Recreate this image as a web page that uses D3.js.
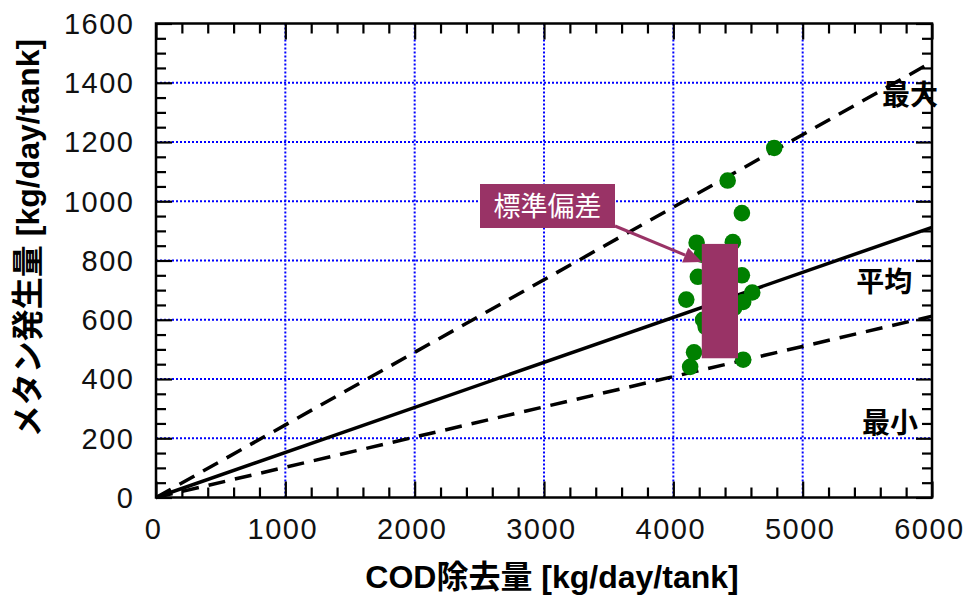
<!DOCTYPE html>
<html><head><meta charset="utf-8">
<script src="https://cdn.jsdelivr.net/npm/d3@7"></script>
<style>
body{margin:0;background:#fff;}
text{font-family:"Liberation Sans",Arial,"Noto Sans CJK JP",sans-serif;}
</style></head>
<body><svg id="c" width="967" height="595"></svg>
<script>
// ---- data ----
const xTicks = [0,1000,2000,3000,4000,5000,6000];
const yTicks = [0,200,400,600,800,1000,1200,1400,1600];
const codRemoval = [4780,4420,4530,4180,4460,4190,4530,4100,4610,4540,4250,4160,4130,4540,4230,4220,4300,4400,4350,4470];
const methane    = [1180,1070,960,860,862,745,750,668,692,660,576,490,441,465,600,820,700,610,530,640];
const lineNames = ["最大","平均","最小"];
const lineEndX = [6000,6000,6000];
const lineEndY = [1470,912,612];
const lineDash = [true,false,true];
const sdX = [4220,4500];
const sdY = [470,856];
const sdLabel = "標準偏差";
const xTitle = "COD除去量 [kg/day/tank]";
const yTitle = "メタン発生量 [kg/day/tank]";

// ---- layout ----
const svg = d3.select("#c");
const L=156, R=932, T=23.5, B=497.5;
const x = d3.scaleLinear().domain([0,6000]).range([L,R]);
const y = d3.scaleLinear().domain([0,1600]).range([B,T]);
const purple = "#993366";

// grid
const g = svg.append("g");
g.selectAll(".gx").data(xTicks.slice(1,-1)).join("line")
  .attr("x1",d=>x(d)).attr("x2",d=>x(d)).attr("y1",T).attr("y2",B)
  .attr("stroke","#0000ff").attr("stroke-width",2).attr("stroke-dasharray","2,2");
g.selectAll(".gy").data(yTicks.slice(1,-1)).join("line")
  .attr("y1",d=>y(d)).attr("y2",d=>y(d)).attr("x1",L).attr("x2",R)
  .attr("stroke","#0000ff").attr("stroke-width",2).attr("stroke-dasharray","2,2");

// axes with inward ticks on all sides
const xMinor = d3.range(0,6001,200).filter(v=>v%1000!==0);
const yMinor = d3.range(0,1601,50).filter(v=>v%200!==0);
function addAxis(axisFn, scale, pos, ticks, size){
  const a = axisFn(scale).tickValues(ticks).tickSize(size).tickFormat("");
  const gg = svg.append("g").attr("transform",pos).call(a);
  gg.selectAll("line").attr("stroke","#000").attr("stroke-width",2.2);
  gg.select(".domain").remove();
  return gg;
}
addAxis(d3.axisTop, x, `translate(0,${B})`, xTicks, 16);
addAxis(d3.axisTop, x, `translate(0,${B})`, xMinor, 10);
addAxis(d3.axisBottom, x, `translate(0,${T})`, xTicks, 16);
addAxis(d3.axisBottom, x, `translate(0,${T})`, xMinor, 10);
addAxis(d3.axisRight, y, `translate(${L},0)`, yTicks, 16);
addAxis(d3.axisRight, y, `translate(${L},0)`, yMinor, 10);
addAxis(d3.axisLeft, y, `translate(${R},0)`, yTicks, 16);
addAxis(d3.axisLeft, y, `translate(${R},0)`, yMinor, 10);
svg.append("rect").attr("x",L).attr("y",T).attr("width",R-L).attr("height",B-T)
  .attr("fill","none").attr("stroke","#000").attr("stroke-width",2.5);

// tick labels
svg.append("g").selectAll("text").data(xTicks).join("text")
  .attr("x",d=>x(d)-2.5).attr("y",538.5).attr("text-anchor","middle")
  .attr("font-size",29).attr("letter-spacing","1.5px").attr("fill","#111")
  .text(d=>d);
svg.append("g").selectAll("text").data(yTicks).join("text")
  .attr("x",134.5).attr("y",d=>y(d)+10.4).attr("text-anchor","end")
  .attr("font-size",29).attr("letter-spacing","1.5px").attr("fill","#111")
  .text(d=>d);

// axis titles
svg.append("text").attr("x",552).attr("y",588).attr("text-anchor","middle")
  .attr("font-size",32).attr("font-weight","bold").attr("fill","#000").text(xTitle);
svg.append("text").attr("transform","translate(39,238) rotate(-90)").attr("text-anchor","middle")
  .attr("font-size",32).attr("font-weight","bold").attr("fill","#000").text(yTitle);

// regression lines
const lineGen = d3.line().x(d=>x(d[0])).y(d=>y(d[1]));
lineNames.forEach((n,i)=>{
  svg.append("path").datum([[0,0],[lineEndX[i],lineEndY[i]]])
    .attr("d",lineGen).attr("fill","none").attr("stroke","#000")
    .attr("stroke-width",3.5).attr("stroke-dasharray",lineDash[i]?"17,10":null);
});

// scatter
svg.append("g").selectAll("circle").data(codRemoval.map((v,i)=>[v,methane[i]])).join("circle")
  .attr("cx",d=>x(d[0])).attr("cy",d=>y(d[1])).attr("r",8.3).attr("fill","#008000");

// SD bar
svg.append("rect").attr("x",x(sdX[0])).attr("y",y(sdY[1]))
  .attr("width",x(sdX[1])-x(sdX[0])).attr("height",y(sdY[0])-y(sdY[1])).attr("fill",purple);

// line labels (positioned in data space)
const labelPos = [[5830,1325],[5630,692],[5675,218]];
lineNames.forEach((n,i)=>{
  svg.append("text").attr("x",x(labelPos[i][0])).attr("y",y(labelPos[i][1]))
    .attr("text-anchor","middle").attr("font-size",28).attr("font-weight","bold")
    .attr("font-family","'Noto Sans CJK JP',sans-serif").attr("fill","#000").text(n);
});

// SD annotation box + arrow
const bx=480, by=184, bw=135, bh=44;
const ax1=615, ay1=226, ax2=x(sdX[0]), ay2=262;
const ang = Math.atan2(ay2-ay1, ax2-ax1);
const hl=18, hw=8;
const bxp = ax2-hl*Math.cos(ang), byp = ay2-hl*Math.sin(ang);
svg.append("line").attr("x1",ax1).attr("y1",ay1).attr("x2",bxp).attr("y2",byp)
  .attr("stroke",purple).attr("stroke-width",3);
svg.append("path").attr("d",`M${ax2},${ay2}L${bxp+hw*Math.sin(ang)},${byp-hw*Math.cos(ang)}L${bxp-hw*Math.sin(ang)},${byp+hw*Math.cos(ang)}Z`)
  .attr("fill",purple);
svg.append("rect").attr("x",bx).attr("y",by).attr("width",bw).attr("height",bh).attr("fill",purple);
svg.append("text").attr("x",bx+bw/2).attr("y",by+bh/2+9.5).attr("text-anchor","middle")
  .attr("font-size",27).attr("font-family","'Noto Sans CJK JP',sans-serif").attr("fill","#fff").text(sdLabel);
</script></body></html>
